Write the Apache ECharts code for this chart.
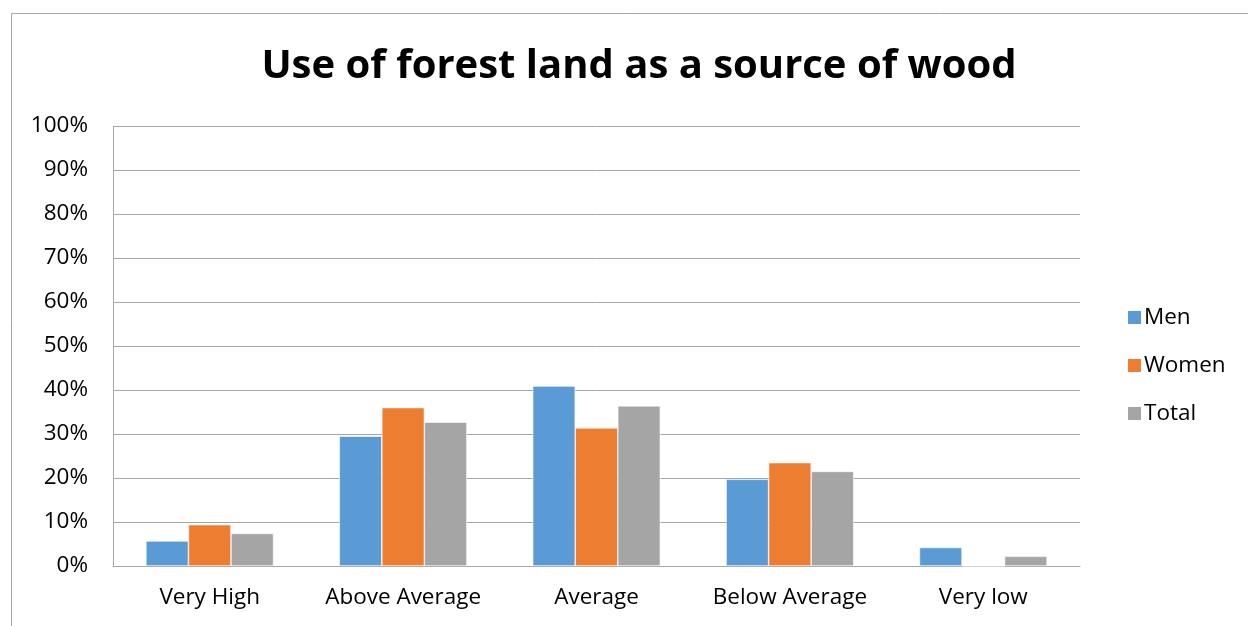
<!DOCTYPE html>
<html>
<head>
<meta charset="utf-8">
<script src="https://cdn.jsdelivr.net/npm/echarts@6/dist/echarts.min.js"></script>
<style>html,body{margin:0;padding:0;background:#fff;}#c{width:1248px;height:626px;}</style>
</head>
<body>
<div id="c"></div>
<script>
const categories = ['Very High', 'Above Average', 'Average', 'Below Average', 'Very low'];
const men = [5.7, 29.5, 40.9, 19.7, 4.2];
const women = [9.4, 36.0, 31.4, 23.5, 0];
const total = [7.4, 32.7, 36.4, 21.5, 2.2];
const yTicks = [0, 10, 20, 30, 40, 50, 60, 70, 80, 90, 100];

const FONT = 'Open Sans';
const FS = 22.5;
const chart = echarts.init(document.getElementById('c'), null, {renderer: 'canvas'});
const barStyle = (c) => ({color: c, borderColor: '#ffffff', borderWidth: 0.6});
chart.setOption({
  animation: false,
  textStyle: {fontFamily: FONT},
  title: {
    text: 'Use of forest land as a source of wood',
    left: 634, top: 42, textAlign: 'center',
    textStyle: {fontFamily: FONT, fontWeight: 'bold', fontSize: 40, color: '#000'}
  },
  graphic: [{
    type: 'rect', shape: {x: 11.5, y: 13.5, width: 1300, height: 700},
    style: {fill: 'none', stroke: '#a6a6a6', lineWidth: 1}, silent: true
  }],
  legend: {
    orient: 'vertical', left: 1121, top: 301, itemGap: 25,
    itemWidth: 15, itemHeight: 15, icon: 'rect',
    textStyle: {fontFamily: FONT, fontSize: FS, color: '#000', padding: [0, 0, 0, -3]},
    data: ['Men', 'Women', 'Total']
  },
  grid: {left: 113, right: 168, top: 126, bottom: 60, containLabel: false},
  xAxis: {
    type: 'category', data: categories,
    axisLine: {lineStyle: {color: '#a6a6a6', width: 1}},
    axisTick: {show: false},
    axisLabel: {fontFamily: FONT, fontSize: FS, color: '#000', margin: 20, interval: 0, hideOverlap: false}
  },
  yAxis: {
    type: 'value', min: 0, max: 100, interval: 10,
    axisLine: {show: true, lineStyle: {color: '#a6a6a6', width: 1}},
    axisTick: {show: false},
    splitLine: {lineStyle: {color: '#a6a6a6', width: 1}},
    axisLabel: {fontFamily: FONT, fontSize: FS, color: '#000', margin: 25,
      formatter: (v) => yTicks.includes(v) ? v + '%' : ''}
  },
  series: [
    {name: 'Men', type: 'bar', data: men, itemStyle: barStyle('#5B9BD5'), barGap: '0%', barCategoryGap: '34%'},
    {name: 'Women', type: 'bar', data: women, itemStyle: barStyle('#ED7D31')},
    {name: 'Total', type: 'bar', data: total, itemStyle: barStyle('#A5A5A5')}
  ]
});
</script>
</body>
</html>
